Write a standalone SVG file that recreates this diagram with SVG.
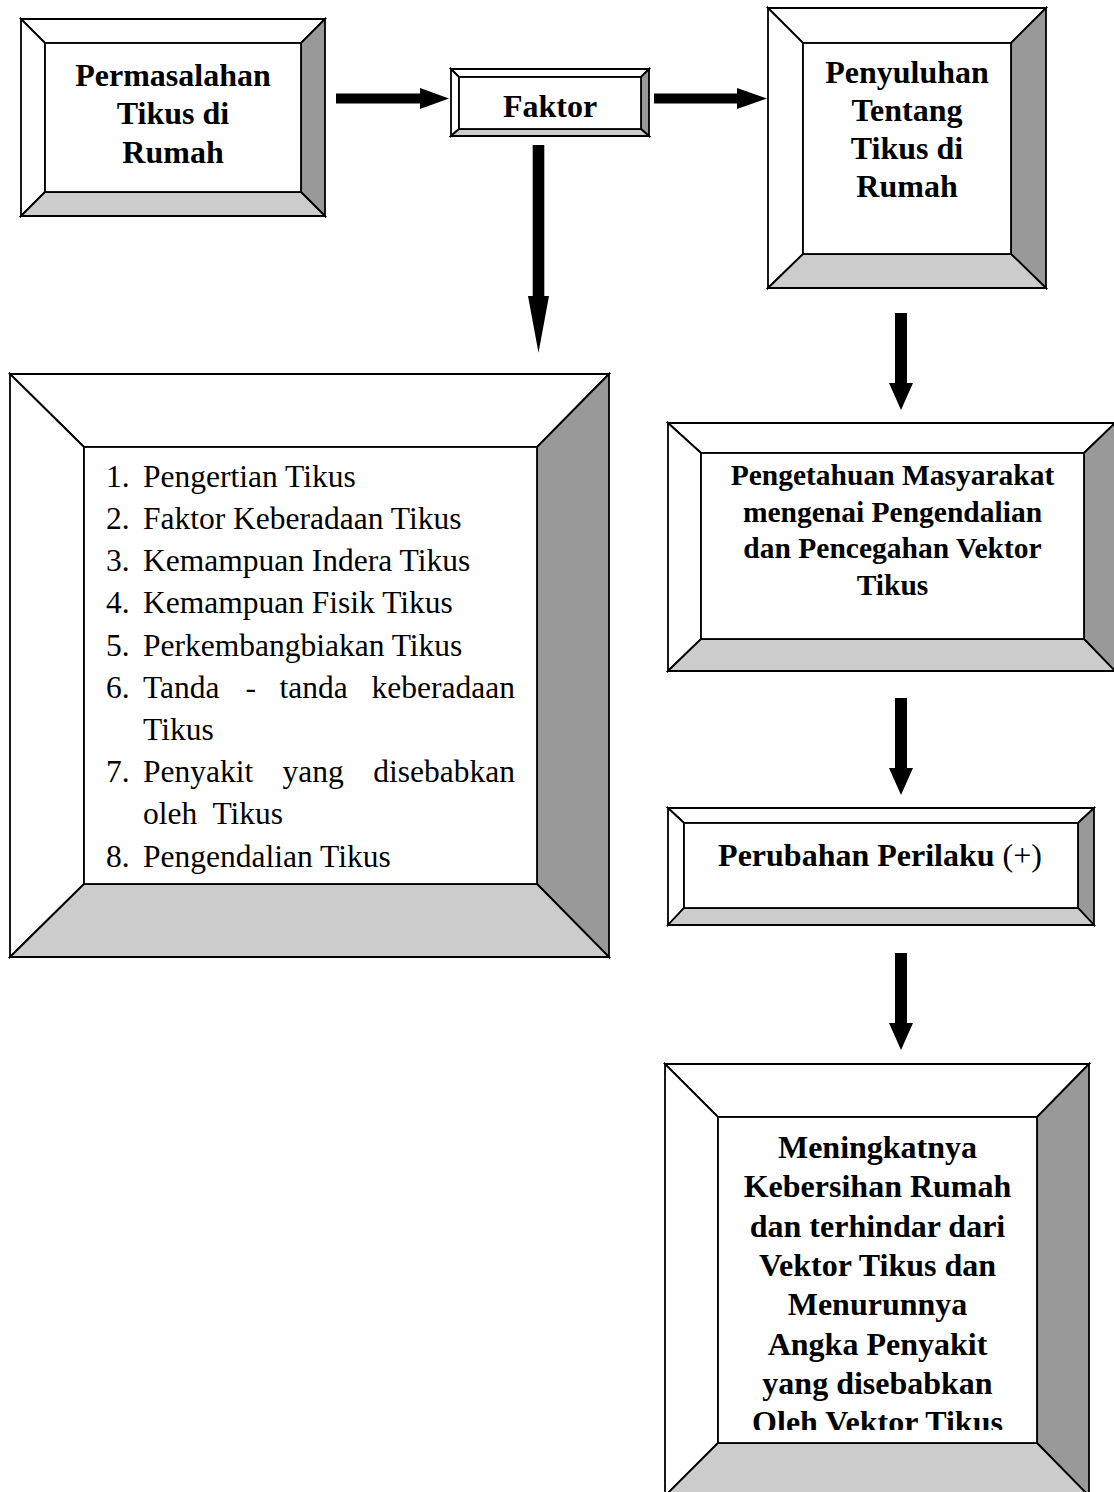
<svg xmlns="http://www.w3.org/2000/svg" width="1114" height="1492" viewBox="0 0 1114 1492">
<style>
.e{stroke:#000;stroke-width:1.8;stroke-linejoin:miter}
.w{fill:#fff}
.d{fill:#999}
.l{fill:#ccc}
.b{font-family:"Liberation Serif","Times New Roman",serif;font-weight:bold;font-size:32px;text-anchor:middle;fill:#000}
.s{font-size:29.5px}
.t{font-family:"Liberation Serif","Times New Roman",serif;font-size:31.5px;fill:#000;white-space:pre}
.a{fill:#000}
</style>
<defs>
<clipPath id="c6"><rect x="718" y="1117" width="319" height="313"/></clipPath>
</defs>
<rect width="1114" height="1492" fill="#fff"/>

<g id="node-permasalahan">
<polygon class="e w" points="21,19 325,19 301,43 45,43"/>
<polygon class="e w" points="21,19 45,43 45,192 21,216"/>
<polygon class="e d" points="325,19 325,216 301,192 301,43"/>
<polygon class="e l" points="21,216 45,192 301,192 325,216"/>
<rect class="e w" x="45" y="43" width="256" height="149"/>
<text class="b" x="173" y="86">Permasalahan</text>
<text class="b" x="173" y="124.3">Tikus di</text>
<text class="b" x="173" y="162.5">Rumah</text>
</g>

<g id="node-faktor">
<polygon class="e w" points="451,69 649,69 641,77 459,77"/>
<polygon class="e w" points="451,69 459,77 459,129 451,136"/>
<polygon class="e d" points="649,69 649,136 641,129 641,77"/>
<polygon class="e l" points="451,136 459,129 641,129 649,136"/>
<rect class="e w" x="459" y="77" width="182" height="52"/>
<text class="b" x="550" y="117">Faktor</text>
</g>

<g id="node-penyuluhan">
<polygon class="e w" points="768,8 1046,8 1011,43 803,43"/>
<polygon class="e w" points="768,8 803,43 803,254 768,288"/>
<polygon class="e d" points="1046,8 1046,288 1011,254 1011,43"/>
<polygon class="e l" points="768,288 803,254 1011,254 1046,288"/>
<rect class="e w" x="803" y="43" width="208" height="211"/>
<text class="b" x="907" y="82.7">Penyuluhan</text>
<text class="b" x="907" y="120.8">Tentang</text>
<text class="b" x="907" y="159">Tikus di</text>
<text class="b" x="907" y="197.3">Rumah</text>
</g>

<g id="node-daftar">
<polygon class="e w" points="10,374 609,374 537,447 84,447"/>
<polygon class="e w" points="10,374 84,447 84,884 10,957"/>
<polygon class="e d" points="609,374 609,957 537,884 537,447"/>
<polygon class="e l" points="10,957 84,884 537,884 609,957"/>
<rect class="e w" x="84" y="447" width="453" height="437"/>
<text class="t" x="106" y="486.7">1.</text><text class="t" x="143" y="486.7">Pengertian Tikus</text>
<text class="t" x="106" y="528.9">2.</text><text class="t" x="143" y="528.9">Faktor Keberadaan Tikus</text>
<text class="t" x="106" y="571.1">3.</text><text class="t" x="143" y="571.1">Kemampuan Indera Tikus</text>
<text class="t" x="106" y="613.3">4.</text><text class="t" x="143" y="613.3">Kemampuan Fisik Tikus</text>
<text class="t" x="106" y="655.5">5.</text><text class="t" x="143" y="655.5">Perkembangbiakan Tikus</text>
<text class="t" x="106" y="697.7">6.</text><text class="t" y="697.7"><tspan x="143">Tanda</tspan><tspan x="245.4">-</tspan><tspan x="279.6">tanda</tspan><tspan x="371.5">keberadaan</tspan></text>
<text class="t" x="143" y="739.9">Tikus</text>
<text class="t" x="106" y="782.1">7.</text><text class="t" y="782.1"><tspan x="143">Penyakit</tspan><tspan x="282.6">yang</tspan><tspan x="373.3">disebabkan</tspan></text>
<text class="t" x="143" y="824.3">oleh  Tikus</text>
<text class="t" x="106" y="866.5">8.</text><text class="t" x="143" y="866.5">Pengendalian Tikus</text>
</g>

<g id="node-pengetahuan">
<polygon class="e w" points="668,423 1115,423 1084,453 701,453"/>
<polygon class="e w" points="668,423 701,453 701,639 668,671"/>
<polygon class="e d" points="1115,423 1115,671 1084,639 1084,453"/>
<polygon class="e l" points="668,671 701,639 1084,639 1115,671"/>
<rect class="e w" x="701" y="453" width="383" height="186"/>
<text class="b s" x="892.5" y="485">Pengetahuan Masyarakat</text>
<text class="b s" x="892.5" y="521.7">mengenai Pengendalian</text>
<text class="b s" x="892.5" y="558.3">dan Pencegahan Vektor</text>
<text class="b s" x="892.5" y="595">Tikus</text>
</g>

<g id="node-perubahan">
<polygon class="e w" points="668,808 1094,808 1078,823 684,823"/>
<polygon class="e w" points="668,808 684,823 684,908 668,925"/>
<polygon class="e d" points="1094,808 1094,925 1078,908 1078,823"/>
<polygon class="e l" points="668,925 684,908 1078,908 1094,925"/>
<rect class="e w" x="684" y="823" width="394" height="85"/>
<text class="b" x="880" y="865.5">Perubahan Perilaku <tspan font-weight="normal">(+)</tspan></text>
</g>

<g id="node-meningkatnya">
<polygon class="e w" points="665,1064 1089,1064 1037,1117 718,1117"/>
<polygon class="e w" points="665,1064 718,1117 718,1443 665,1496"/>
<polygon class="e d" points="1089,1064 1089,1496 1037,1443 1037,1117"/>
<polygon class="e l" points="665,1496 718,1443 1037,1443 1089,1496"/>
<rect class="e w" x="718" y="1117" width="319" height="326"/>
<g clip-path="url(#c6)">
<text class="b" x="877.5" y="1158">Meningkatnya</text>
<text class="b" x="877.5" y="1197.3">Kebersihan Rumah</text>
<text class="b" x="877.5" y="1236.6">dan terhindar dari</text>
<text class="b" x="877.5" y="1275.9">Vektor Tikus dan</text>
<text class="b" x="877.5" y="1315.2">Menurunnya</text>
<text class="b" x="877.5" y="1354.5">Angka Penyakit</text>
<text class="b" x="877.5" y="1393.8">yang disebabkan</text>
<text class="b" x="877.5" y="1433.1">Oleh Vektor Tikus</text>
</g>
</g>

<g id="connectors">
<polygon class="a" points="336,93.5 420,93.5 420,88 449,98.5 420,109 420,103.5 336,103.5"/>
<polygon class="a" points="654,93.5 737,93.5 737,88 767,98.5 737,109 737,103.5 654,103.5"/>
<polygon class="a" points="532.7,145 544.3,145 544.3,296 549,296 538.5,352.7 528,296 532.7,296"/>
<polygon class="a" points="895,313 907,313 907,383 913,383 901,410 889,383 895,383"/>
<polygon class="a" points="895,698 907,698 907,768 913,768 901,795 889,768 895,768"/>
<polygon class="a" points="895,953 907,953 907,1023 913,1023 901,1050 889,1023 895,1023"/>
</g>
</svg>
